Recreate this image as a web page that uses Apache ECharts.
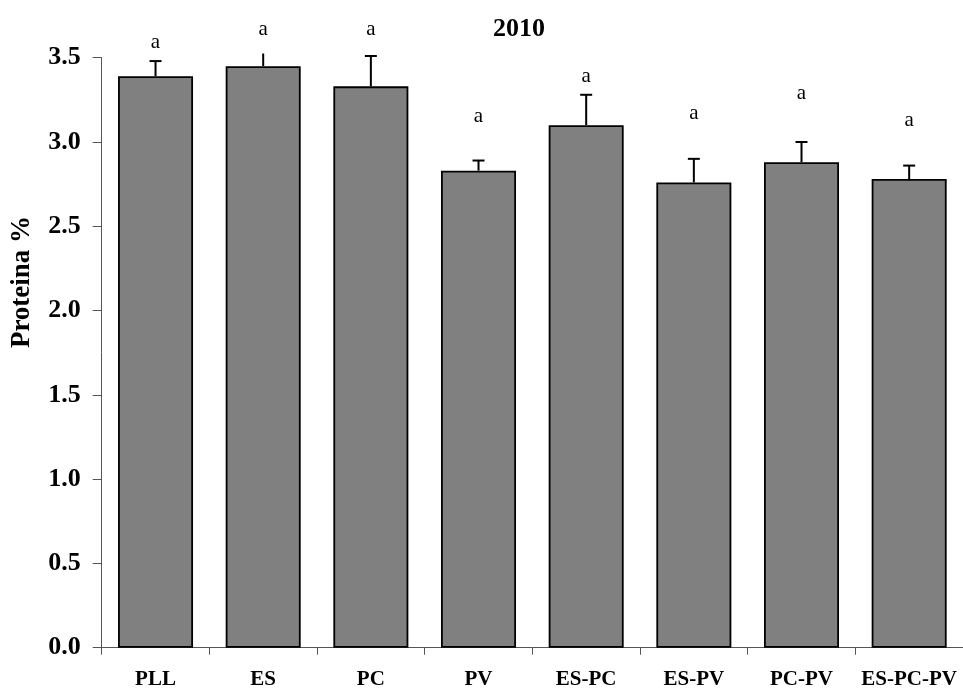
<!DOCTYPE html>
<html>
<head>
<meta charset="utf-8">
<script src="https://cdn.jsdelivr.net/npm/echarts@6/dist/echarts.min.js"></script>
<style>html,body{margin:0;padding:0;background:#fff;}#c{width:963px;height:691px;}</style>
</head>
<body>
<div id="c"></div>
<script>
var categories = ['PLL', 'ES', 'PC', 'PV', 'ES-PC', 'ES-PV', 'PC-PV', 'ES-PC-PV'];
var proteinValues = [3.39, 3.45, 3.33, 2.83, 3.10, 2.76, 2.88, 2.78];
var errorTops = [3.48, 3.56, 3.51, 2.89, 3.28, 2.90, 3.00, 2.86];
var sigLetters = ['a', 'a', 'a', 'a', 'a', 'a', 'a', 'a'];
var letterHeights = [3.59, 3.67, 3.67, 3.15, 3.39, 3.17, 3.29, 3.13];
var yTicks = ['0.0', '0.5', '1.0', '1.5', '2.0', '2.5', '3.0', '3.5'];
var titleText = '2010';
var yName = 'Proteina %';
var plotCeiling = 3.525;

var FONT = '"Liberation Serif", "Times New Roman", serif';
var chart = echarts.init(document.getElementById('c'));

var errData = categories.map(function (c, i) { return [i, proteinValues[i], errorTops[i]]; });
var letterData = categories.map(function (c, i) { return [i, letterHeights[i], sigLetters[i]]; });

chart.setOption({
  animation: false,
  backgroundColor: '#ffffff',
  title: {
    text: titleText, left: 488, top: 11,
    textStyle: { fontFamily: FONT, fontWeight: 'bold', fontSize: 26, color: '#000' }
  },
  graphic: [{
    type: 'text', x: 22, y: 282, rotation: Math.PI / 2,
    style: {
      text: yName, fontFamily: FONT, fontWeight: 'bold', fontSize: 27,
      fill: '#000', align: 'center', verticalAlign: 'middle'
    }
  }],
  grid: { left: 101.7, top: 57.7, bottom: 43.3, right: -9.9, containLabel: false },
  xAxis: {
    type: 'category', data: categories,
    axisLine: { lineStyle: { color: '#555', width: 1 } },
    axisTick: { show: true, alignWithLabel: false, length: 7, lineStyle: { color: '#555' } },
    axisLabel: { fontFamily: FONT, fontWeight: 'bold', fontSize: 21, color: '#000', margin: 21, interval: 0 },
    splitLine: { show: false }
  },
  yAxis: {
    type: 'value', min: 0, max: 3.5, interval: 0.5,
    axisLine: { show: true, lineStyle: { color: '#555', width: 1 } },
    axisTick: { show: true, length: 9, lineStyle: { color: '#555' } },
    axisLabel: {
      fontFamily: FONT, fontWeight: 'bold', fontSize: 26, color: '#000', margin: 21,
      formatter: function (v) { return yTicks[Math.round(v / 0.5)]; }
    },
    splitLine: { show: false }
  },
  series: [
    {
      type: 'bar', data: proteinValues, barWidth: 75,
      itemStyle: { color: '#808080', borderColor: '#000', borderWidth: 1.8 }
    },
    {
      type: 'custom', data: errData, clip: false, z: 5,
      renderItem: function (params, api) {
        var x = api.coord([api.value(0), api.value(1)]);
        var topVal = Math.min(api.value(2), plotCeiling);
        var t = api.coord([api.value(0), topVal]);
        var children = [{
          type: 'line', shape: { x1: x[0], y1: x[1], x2: x[0], y2: t[1] },
          style: { stroke: '#000', lineWidth: 2 }
        }];
        if (api.value(2) <= plotCeiling) {
          children.push({
            type: 'line', shape: { x1: x[0] - 6, y1: t[1], x2: x[0] + 6, y2: t[1] },
            style: { stroke: '#000', lineWidth: 2 }
          });
        }
        return { type: 'group', children: children };
      }
    },
    {
      type: 'custom', data: letterData, clip: false, z: 6,
      renderItem: function (params, api) {
        var p = api.coord([api.value(0), api.value(1)]);
        return {
          type: 'text', x: p[0], y: p[1],
          style: {
            text: sigLetters[params.dataIndex], fontFamily: FONT, fontSize: 21,
            fill: '#000', align: 'center', verticalAlign: 'middle'
          }
        };
      }
    }
  ]
});
</script>
</body>
</html>
